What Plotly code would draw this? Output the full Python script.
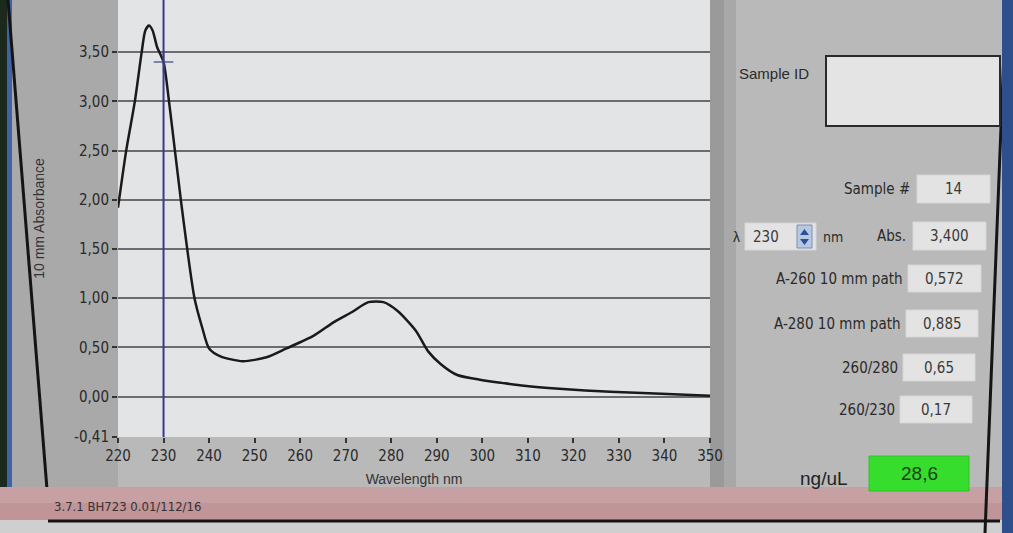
import plotly.graph_objects as go

# ---------------- data ----------------
wavelength_nm = [220.0, 221.8, 223.7, 225.2, 226.0, 226.8, 227.6, 228.6, 230.0, 231.2,
                 232.5, 233.8, 235.2, 236.8, 238.5, 240.0, 242.5, 247.4, 252.6, 257.0,
                 263.0, 267.5, 271.4, 275.0, 278.3, 281.4, 285.4, 288.1, 290.9, 294.5,
                 299.8, 304.3, 309.2, 316.9, 328.1, 339.3, 350.0]
absorbance = [1.92, 2.50, 3.00, 3.50, 3.72, 3.77, 3.72, 3.55, 3.40, 3.00,
              2.50, 2.00, 1.50, 1.00, 0.70, 0.49, 0.41, 0.36, 0.40, 0.49,
              0.62, 0.76, 0.86, 0.96, 0.96, 0.87, 0.67, 0.46, 0.33, 0.22,
              0.17, 0.14, 0.11, 0.08, 0.05, 0.03, 0.01]

x_ticks = [220, 230, 240, 250, 260, 270, 280, 290, 300, 310, 320, 330, 340, 350]
y_ticks = [-0.41, 0.0, 0.5, 1.0, 1.5, 2.0, 2.5, 3.0, 3.5]
y_ticktext = ["-0,41", "0,00", "0,50", "1,00", "1,50", "2,00", "2,50", "3,00", "3,50"]
y_top = 4.03

cursor_lambda = 230
cursor_abs = 3.40

panel_labels = ["Sample #", "Abs.", "A-260 10 mm path", "A-280 10 mm path", "260/280", "260/230"]
panel_values = ["14", "3,400", "0,572", "0,885", "0,65", "0,17"]
lambda_value = "230"
concentration_label = "ng/uL"
concentration_value = "28,6"
footer_text = "3.7.1 BH723 0.01/112/16"

# ---------------- layout helpers ----------------
W, H = 1013, 533
PL, PR, PT, PB = 118, 710, 0, 437


def fx(p):
    return (p - PL) / (PR - PL)


def fy(p):
    return (PB - p) / (PB - PT)


NARROW = "Liberation Sans Narrow, DejaVu Sans Condensed, Arial Narrow, Liberation Sans, sans-serif"
SANS = "Liberation Sans, Arial, sans-serif"

fig = go.Figure()

fig.add_trace(go.Scatter(
    x=wavelength_nm, y=absorbance, mode="lines",
    line=dict(color="#1a1a1a", width=2.5, shape="spline", smoothing=0.7),
    hoverinfo="skip", showlegend=False))

fig.add_trace(go.Scatter(
    x=[cursor_lambda], y=[cursor_abs], mode="markers",
    marker=dict(symbol="cross-thin", size=14, line=dict(color="#5a6690", width=1.6)),
    hoverinfo="skip", showlegend=False))

shapes = []


def rect(x0, y0, x1, y1, fill, line_color=None, lw=0, layer="below"):
    shapes.append(dict(type="rect", xref="paper", yref="paper",
                       x0=fx(x0), x1=fx(x1), y0=fy(y1), y1=fy(y0),
                       fillcolor=fill, layer=layer,
                       line=dict(color=line_color or fill, width=lw)))


def seg(x0, y0, x1, y1, color, lw, layer="below"):
    shapes.append(dict(type="line", xref="paper", yref="paper",
                       x0=fx(x0), x1=fx(x1), y0=fy(y0), y1=fy(y1),
                       layer=layer, line=dict(color=color, width=lw)))


# window frame pieces
rect(0, 0, 118, 490, "#a9a9a9")                 # left grey panel
rect(0, 0, 7, 533, "#1c2a1e")                    # desktop edge
rect(7, 0, 12, 533, "#3f63a8")
seg(8, 0, 50, 527, "#141414", 3)                 # window border (slanted in photo)
rect(710, 0, 724, 487, "#9a9a9a")                # shadow right of plot
rect(724, 0, 736, 487, "#a8a8a8")
rect(0, 487, 1013, 520, "#c6a0a2")               # pink status strip
rect(0, 503, 1013, 520, "#bf9598")
rect(0, 520, 1013, 533, "#cfcfcf")
seg(48, 521, 1000, 521, "#151515", 3)
seg(1006, 0, 985, 533, "#151515", 3)             # right window border
rect(1002, 0, 1013, 533, "#2e4f8c")

# cursor line
shapes.append(dict(type="line", xref="x", yref="paper", x0=cursor_lambda, x1=cursor_lambda,
                   y0=0, y1=1, layer="above", line=dict(color="#3a3a8c", width=2)))

annotations = []


def text(x, y, s, size=15, anchor="left", font=SANS, color="#2a2a2a"):
    annotations.append(dict(xref="paper", yref="paper", x=fx(x), y=fy(y), text=s,
                            showarrow=False, xanchor=anchor, yanchor="middle",
                            font=dict(family=font, size=size, color=color)))


# Sample ID
text(737, 73, "Sample ID", 15)
rect(826, 56, 1000, 126, "#e4e4e4", "#2a2a2a", 2)

# value boxes (positions follow the photo)
boxes = [(917, 175, 990, 203), (913, 222, 986, 250), (908, 265, 981, 292),
         (906, 310, 978, 337), (903, 354, 975, 381), (900, 396, 972, 423)]
label_right = [912, 908, 905, 903, 900, 897]
for (x0, y0, x1, y1), lab, val, lr in zip(boxes, panel_labels, panel_values, label_right):
    rect(x0, y0, x1, y1, "#e3e3e3", "#d6d6d6", 1)
    text((x0 + x1) / 2, (y0 + y1) / 2, val, 15, "center", NARROW, "#3a3a3a")
    text(lr, (y0 + y1) / 2, lab, 15, "right", NARROW, "#2a2a2a")

# lambda spin box
text(731, 237, "λ", 14, "left", SANS)
rect(745, 223, 816, 250, "#e3e3e3", "#d6d6d6", 1)
text(766, 237, lambda_value, 15, "center", NARROW, "#3a3a3a")
rect(797, 225, 812, 248, "#b7c8e2", "#7d8fb5", 1)
shapes.append(dict(type="path", xref="paper", yref="paper", layer="above",
                   path=f"M {fx(800)},{fy(235)} L {fx(809)},{fy(235)} L {fx(804.5)},{fy(229)} Z",
                   fillcolor="#2c4f9a", line=dict(width=0)))
shapes.append(dict(type="path", xref="paper", yref="paper", layer="above",
                   path=f"M {fx(800)},{fy(239)} L {fx(809)},{fy(239)} L {fx(804.5)},{fy(245)} Z",
                   fillcolor="#2c4f9a", line=dict(width=0)))
text(821, 237, "nm", 14, "left", NARROW)

# concentration
text(850, 478, concentration_label, 19, "right", SANS, "#222222")
rect(869, 456, 969, 491, "#36dd2c", "#2fc428", 1)
text(919, 473, concentration_value, 19, "center", SANS, "#1f3f1a")

# footer
text(52, 506, footer_text, 13, "left", NARROW, "#3a3030")

fig.update_layout(
    width=W, height=H,
    margin=dict(l=PL, r=W - PR, t=PT, b=H - PB, pad=0),
    paper_bgcolor="#b9b9b9",
    plot_bgcolor="#e3e4e6",
    shapes=shapes,
    annotations=annotations,
    showlegend=False,
    xaxis=dict(range=[220, 350], tickvals=x_ticks, ticks="outside", ticklen=5,
               tickcolor="#333", tickwidth=1.5, showgrid=False, zeroline=False,
               showline=False, tickfont=dict(family=NARROW, size=15, color="#2a2a2a"),
               title=dict(text="Wavelength nm", standoff=10,
                          font=dict(family=SANS, size=14, color="#333"))),
    yaxis=dict(range=[-0.41, y_top], tickvals=y_ticks, ticktext=y_ticktext,
               ticks="outside", ticklen=5, tickcolor="#333", tickwidth=1.5,
               showgrid=True, gridcolor="#6c6c6c", gridwidth=1.5, zeroline=False,
               showline=False, tickfont=dict(family=NARROW, size=15, color="#2a2a2a"),
               title=dict(text="10 mm Absorbance", standoff=26,
                          font=dict(family=SANS, size=14, color="#333"))),
)

fig.write_html("out.html", config={"displayModeBar": False},
               post_script="document.body.style.margin='0';document.body.style.overflow='hidden';")
